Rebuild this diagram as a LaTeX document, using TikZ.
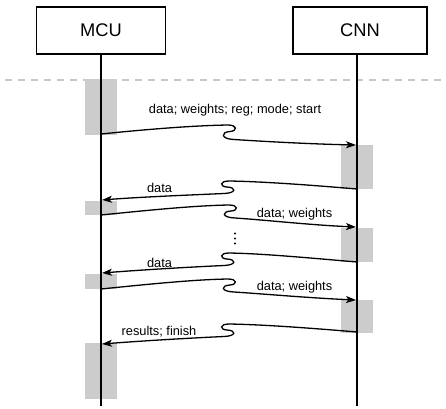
\documentclass[tikz,border=0pt]{standalone}
\usepackage{fontspec}
\setmainfont{Liberation Sans}
\usetikzlibrary{arrows.meta}
\definecolor{barfill}{HTML}{CCCCCC}
\definecolor{sepgray}{HTML}{C8C8C8}
\tikzset{
  party/.style={draw=black, line width=1.2pt, fill=white, minimum width=129pt,
    minimum height=47pt, inner sep=0pt, font=\fontsize{18.3}{22}\selectfont},
  lifeline/.style={draw=black, line width=1.2pt},
  actbar/.style={fill=barfill, draw=none},
  msg/.style={draw=black, line width=1.3pt,
    -{Stealth[length=10pt,width=7pt,inset=2.5pt]}},
  msglabel/.style={anchor=base, inner sep=0pt, font=\fontsize{12.8}{15}\selectfont},
  separator/.style={draw=sepgray, line width=1.2pt, dash pattern=on 7pt off 6pt}
}
\begin{document}
\begin{tikzpicture}[x=1pt, y=-1pt]
\useasboundingbox (0,0) rectangle (446,408);

% phase separator
\draw[separator] (5,80) -- (446,80);

% activation bars
\fill[actbar] (85,79) rectangle (117,135);
\fill[actbar] (85,201) rectangle (117,215);
\fill[actbar] (85,274) rectangle (117,289);
\fill[actbar] (85,343) rectangle (117,399);
\fill[actbar] (341,145) rectangle (373,189);
\fill[actbar] (341,228) rectangle (373,262);
\fill[actbar] (341,300) rectangle (373,333);

% participants and lifelines
\node[party] (mcu) at (101,30.5) {MCU};
\node[party, minimum width=134pt] (cnn) at (360,30.5) {CNN};
\coordinate (mcubot) at (101,406);
\coordinate (cnnbot) at (357,406);
\draw[lifeline] (mcu.south -| mcubot) -- (mcubot);
\draw[lifeline] (cnn.south -| cnnbot) -- (cnnbot);

% message end points
\coordinate (a1s) at (101,134); \coordinate (a1e) at (356,145);
\coordinate (a2s) at (357,189); \coordinate (a2e) at (102,200);
\coordinate (a3s) at (101,215); \coordinate (a3e) at (356,227);
\coordinate (a4s) at (357,262); \coordinate (a4e) at (102,273);
\coordinate (a5s) at (101,289); \coordinate (a5e) at (356,300);
\coordinate (a6s) at (357,332); \coordinate (a6e) at (102,344);

% MCU -> CNN messages
\draw[msg] (a1s) .. controls (150,129) and (195,125.5) .. (228,125)
  .. controls (237.5,125) and (237.5,131) .. (230,131.5)
  .. controls (220.5,132) and (220.5,139) .. (234,139.5)
  .. controls (265,141.5) and (310,144) .. (a1e);
\draw[msg] (a3s) .. controls (150,210) and (196,205.5) .. (229,205)
  .. controls (238.5,205) and (238.5,210.5) .. (231,211)
  .. controls (221.5,211.5) and (221.5,217.5) .. (235,218)
  .. controls (266,220) and (310,225) .. (a3e);
\draw[msg] (a5s) .. controls (150,284) and (195,279.5) .. (228,279)
  .. controls (237.5,279) and (237.5,284.5) .. (230,285)
  .. controls (220.5,285.5) and (220.5,291.5) .. (234,292)
  .. controls (265,294) and (310,298) .. (a5e);

% CNN -> MCU messages
\draw[msg] (a2s) .. controls (310,185) and (262,181.5) .. (229,181)
  .. controls (219.5,181) and (219.5,186.5) .. (227,187)
  .. controls (236.5,187.5) and (236.5,193) .. (224,193.5)
  .. controls (190,195) and (140,197) .. (a2e);
\draw[msg] (a4s) .. controls (310,258) and (262,253.5) .. (229,253)
  .. controls (219.5,253) and (219.5,258.5) .. (227,259)
  .. controls (236.5,259.5) and (236.5,265) .. (224,265.5)
  .. controls (190,267) and (140,270) .. (a4e);
\draw[msg] (a6s) .. controls (310,328) and (262,324.5) .. (229,324)
  .. controls (219.5,324) and (219.5,329.5) .. (227,330)
  .. controls (236.5,330.5) and (236.5,336) .. (224,336.5)
  .. controls (190,338) and (140,341) .. (a6e);

% message labels
\node[msglabel] (l1) at (235,113) {data; weights; reg; mode; start};
\node[msglabel] (l2) at (159.5,192) {data};
\node[msglabel] (l3) at (294.5,217) {data; weights};
\node[msglabel] (l4) at (159.5,267.5) {data};
\node[msglabel] (l5) at (294.5,290) {data; weights};
\node[msglabel] (l6) at (159,335) {results; finish};

% repetition marker
\fill (235,233.5) circle (1.2);
\fill (235,238.5) circle (1.2);
\fill (235,243.5) circle (1.2);
\end{tikzpicture}
\end{document}
